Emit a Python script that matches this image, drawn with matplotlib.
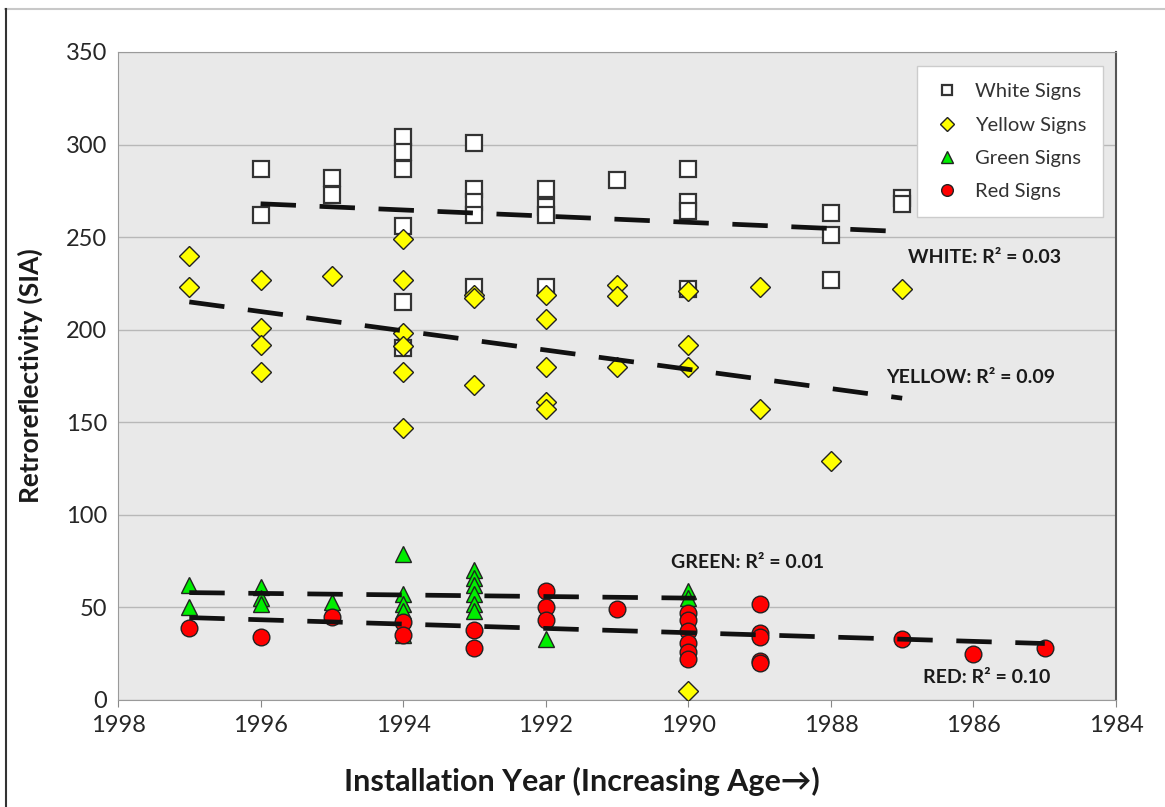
import numpy as np
import matplotlib
matplotlib.use('Agg')
import matplotlib.pyplot as plt
from matplotlib.lines import Line2D

plt.rcParams['font.family'] = ['Lato', 'DejaVu Sans']

# sign data (installation year, retroreflectivity)
white_years = [1996, 1996, 1995, 1995, 1994, 1994, 1994, 1994, 1994, 1994,
               1993, 1993, 1993, 1993, 1993, 1992, 1992, 1992, 1992, 1991,
               1990, 1990, 1990, 1990, 1988, 1988, 1988, 1987, 1987]
white_vals = [287, 262, 282, 273, 304, 296, 287, 256, 215, 190,
              301, 276, 269, 262, 223, 276, 266, 262, 223, 281,
              287, 269, 264, 222, 263, 251, 227, 271, 268]

yellow_years = [1997, 1997, 1996, 1996, 1996, 1996, 1995,
                1994, 1994, 1994, 1994, 1994, 1994, 1993, 1993, 1993,
                1992, 1992, 1992, 1992, 1992, 1991, 1991, 1991,
                1990, 1990, 1990, 1990, 1989, 1989, 1988, 1987]
yellow_vals = [240, 223, 227, 201, 192, 177, 229,
               249, 227, 198, 191, 177, 147, 219, 217, 170,
               219, 206, 180, 161, 157, 224, 218, 180,
               221, 192, 180, 5, 223, 157, 129, 222]

green_years = [1997, 1997, 1996, 1996, 1996, 1995,
               1994, 1994, 1994, 1994, 1994,
               1993, 1993, 1993, 1993, 1993, 1993, 1992, 1990, 1990]
green_vals = [62, 50, 61, 55, 52, 53,
              79, 57, 52, 48, 35,
              70, 66, 62, 57, 52, 48, 33, 59, 55]

red_years = [1997, 1996, 1995, 1994, 1994, 1993, 1993, 1992, 1992, 1992, 1991,
             1990, 1990, 1990, 1990, 1990, 1990,
             1989, 1989, 1989, 1989, 1989, 1987, 1986, 1985]
red_vals = [39, 34, 45, 42, 35, 38, 28, 59, 50, 43, 49,
            47, 43, 37, 31, 26, 22,
            52, 36, 34, 21, 20, 33, 25, 28]

# trend line end points (year range, fitted values)
white_fit_x, white_fit_y = [1996, 1987], [268, 253]
yellow_fit_x, yellow_fit_y = [1997, 1987], [215, 163]
green_fit_x, green_fit_y = [1997, 1989.9], [58, 55]
red_fit_x, red_fit_y = [1997, 1985], [44.5, 30.5]

# (text, year, value) for the R-squared notes
notes = [('WHITE: R² = 0.03', 1986.92, 239),
         ('YELLOW: R² = 0.09', 1987.23, 174),
         ('GREEN: R² = 0.01', 1990.25, 74.5),
         ('RED: R² = 0.10', 1986.71, 12.4)]

fig = plt.figure(figsize=(11.65, 8.07), dpi=100)
ax = fig.add_axes([0.1013, 0.1326, 0.8567, 0.803])
ax.set_facecolor('#e9e9e9')

edge = '#222222'
ax.plot(white_years, white_vals, 's', ms=11, mfc='white', mec='#333333', mew=1.6,
        label='White Signs', zorder=3)
ax.plot(yellow_years, yellow_vals, 'D', ms=10, mfc='#ffff00', mec=edge, mew=1.0,
        label='Yellow Signs', zorder=4)
ax.plot(green_years, green_vals, '^', ms=12, mfc='#00ee00', mec=edge, mew=1.0,
        label='Green Signs', zorder=5)
ax.plot(red_years, red_vals, 'o', ms=12, mfc='#ff0000', mec=edge, mew=1.0,
        label='Red Signs', zorder=6)

dash = (0, (7.5, 5.0))
for fx, fy in [(white_fit_x, white_fit_y), (yellow_fit_x, yellow_fit_y),
               (green_fit_x, green_fit_y), (red_fit_x, red_fit_y)]:
    ax.plot(fx, fy, color='#111111', lw=3.4, linestyle=dash, zorder=7)

for txt, xx, yy in notes:
    ax.text(xx, yy, txt, fontsize=14, fontweight='bold', color='#1a1a1a',
            ha='left', va='center', zorder=8)

ax.set_xlim(1998, 1984)
ax.set_ylim(0, 350)
ax.set_xticks(np.arange(1998, 1983, -2))
ax.set_yticks(np.arange(0, 351, 50))
ax.yaxis.grid(True, color='#b8b8b8', lw=1.0)
ax.set_axisbelow(True)
ax.tick_params(axis='y', length=0, pad=8, labelsize=17, labelcolor='#262626')
ax.tick_params(axis='x', length=5, color='#888888', pad=6, labelsize=17,
               labelcolor='#262626')

for s in ['left', 'top', 'bottom']:
    ax.spines[s].set_color('#9a9a9a')
ax.spines['right'].set_color('#555555')
ax.spines['right'].set_linewidth(1.5)

ax.set_xlabel('Installation Year (Increasing Age\u2192)', fontsize=22,
              fontweight='bold', color='#1a1a1a')
ax.xaxis.set_label_coords(0.465, -0.103)
ax.set_ylabel('Retroreflectivity (SIA)', fontsize=19, fontweight='bold',
              color='#1a1a1a', labelpad=16)

leg = ax.legend(loc='upper right', bbox_to_anchor=(0.987, 0.978), borderaxespad=0,
                fontsize=14.5, markerscale=0.7, frameon=True, fancybox=False,
                labelspacing=0.8, borderpad=0.85, handletextpad=0.7,
                handlelength=1.3)
leg.get_frame().set_facecolor('white')
leg.get_frame().set_edgecolor('#cccccc')
leg.get_frame().set_alpha(1)
for t in leg.get_texts():
    t.set_color('#333333')

# outer frame of the original figure
fig.add_artist(Line2D([0.004, 1.0], [0.989, 0.989], color='#c8c8c8', lw=1.5,
                      transform=fig.transFigure))
fig.add_artist(Line2D([0.005, 0.005], [0.0, 0.989], color='#333333', lw=1.5,
                      transform=fig.transFigure))

fig.savefig('out.png', dpi=100)
